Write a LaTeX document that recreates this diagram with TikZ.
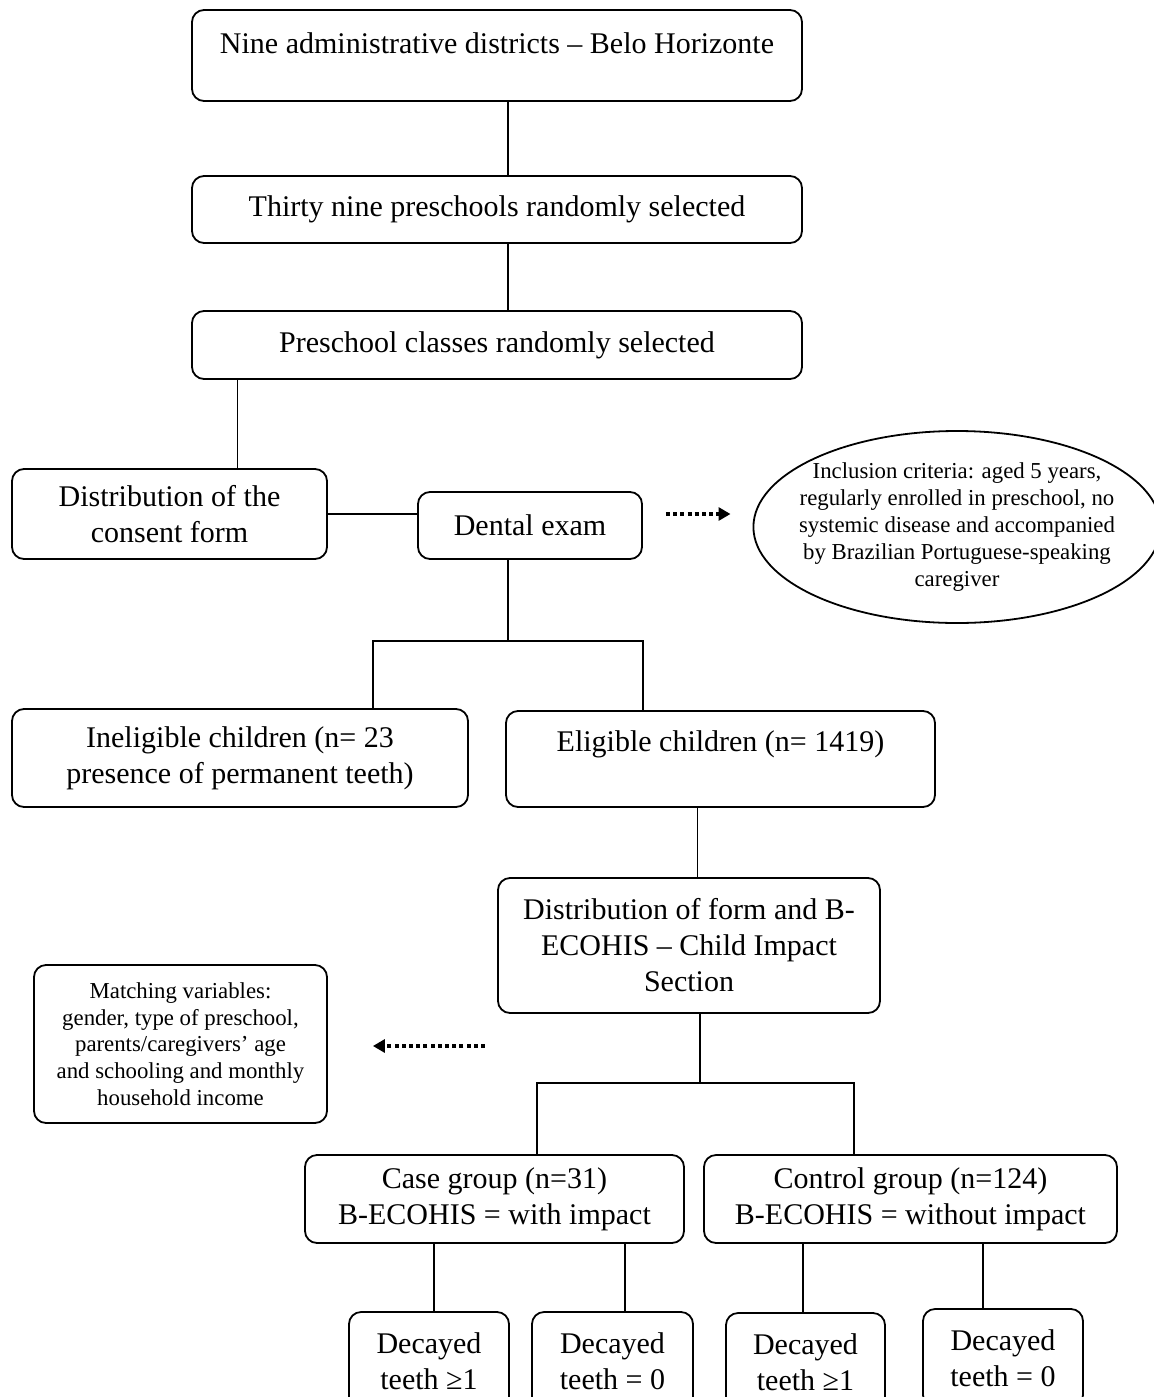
\documentclass[tikz,border=0pt]{standalone}
\usepackage{fontspec}
\setmainfont{Liberation Serif}
\usetikzlibrary{arrows.meta,calc,shapes.geometric}
\tikzset{
  link/.style={line width=0.9pt},
  flow-box/.style={
    draw=black,
    line width=0.9pt,
    rounded corners=6pt,
    align=center,
    inner sep=0pt,
    font=\fontsize{15}{18}\selectfont
  },
  note-box/.style={flow-box, font=\fontsize{11.4}{13.4}\selectfont},
  note-oval/.style={ellipse, draw=black, line width=0.9pt, align=center, inner ysep=0pt, inner xsep=-7pt,
    font=\fontsize{11.4}{13.5}\selectfont},
  dotted-arrow/.style={line width=1.8pt, dash pattern=on 2pt off 1.6pt,
    -{Triangle[length=6pt,width=6.5pt]}}
}

\begin{document}
\begin{tikzpicture}[x=0.5pt, y=-0.5pt]
  \useasboundingbox (0,0) rectangle (1154,1397);
  % Sampling steps
  \node[flow-box, minimum width=305pt, minimum height=45.5pt, text height=10.5pt, text depth=12pt] (nine) at (497,55.5) {Nine administrative districts – Belo Horizonte};
  \node[flow-box, minimum width=305pt, minimum height=33.5pt] (thirty) at (497,209.5) {Thirty nine preschools randomly selected};
  \node[flow-box, minimum width=305pt, minimum height=34pt] (classes) at (497,345) {Preschool classes randomly selected};
  \node[flow-box, minimum width=157.5pt, minimum height=45pt] (consent) at (169.5,514) {Distribution of the\\consent form};
  \node[flow-box, minimum width=112pt, minimum height=33.5pt] (exam) at (530,525.5) {Dental exam};
  \node[note-oval, minimum width=202pt, minimum height=96pt] (crit) at (957,527) {Inclusion criteria: aged 5 years,\\regularly enrolled in preschool, no\\systemic disease and accompanied\\by Brazilian Portuguese-speaking\\caregiver};
  % Eligibility
  \node[flow-box, minimum width=228pt, minimum height=49pt] (inelig) at (240,758) {Ineligible children (n= 23\\presence of permanent teeth)};
  \node[flow-box, minimum width=214.5pt, minimum height=48pt, text height=10.5pt, text depth=18.5pt] (elig) at (720.5,759) {Eligible children (n= 1419)};
  \node[flow-box, minimum width=191pt, minimum height=67.5pt] (formb) at (689,945.5) {Distribution of form and B-\\ECOHIS – Child Impact\\Section};
  \node[note-box, minimum width=146.5pt, minimum height=79pt] (match) at (180.5,1044) {Matching variables:\\gender, type of preschool,\\parents/caregivers’ age\\and schooling and monthly\\household income};
  % Groups
  \node[flow-box, minimum width=189.5pt, minimum height=44pt] (case) at (494.5,1199) {Case group (n=31)\\B-ECOHIS = with impact};
  \node[flow-box, minimum width=206.5pt, minimum height=44pt] (control) at (910.5,1199) {Control group (n=124)\\B-ECOHIS = without impact};
  \node[flow-box, minimum width=80pt, minimum height=49pt] (d1) at (429,1361) {Decayed\\teeth ≥1};
  \node[flow-box, minimum width=80.5pt, minimum height=49pt] (d2) at (612.5,1361) {Decayed\\teeth = 0};
  \node[flow-box, minimum width=79.5pt, minimum height=49pt] (d3) at (805.5,1362) {Decayed\\teeth ≥1};
  \node[flow-box, minimum width=80pt, minimum height=49pt] (d4) at (1003,1358) {Decayed\\teeth = 0};
  % Connectors
  \coordinate (trunk) at (508,0);
  \draw[link] (nine.south -| trunk) -- (thirty.north -| trunk);
  \draw[link] (thirty.south -| trunk) -- (classes.north -| trunk);
  \draw[link] ([xshift=34pt]consent.north) -- ([xshift=34pt]consent.north |- classes.south);
  \draw[link] (consent.east) -- (consent.east -| exam.west);
  \draw[dotted-arrow] ($(exam.east |- consent.east)+(23,0)$) -- ($(crit.west |- consent.east)+(-22,0)$);
  \coordinate (split1) at (508,641);
  \draw[link] (exam.south -| split1) -- (split1);
  \draw[link] ([xshift=66.5pt]inelig.north) |- ([xshift=-38.75pt]elig.north |- split1) -- ([xshift=-38.75pt]elig.north);
  \draw[link] ([xshift=-11.5pt]elig.south) -- ([xshift=-11.5pt]elig.south |- formb.north);
  \coordinate (split2) at (700,1083);
  \draw[link] (formb.south -| split2) -- (split2);
  \draw[link] ([xshift=21.25pt]case.north) |- ([xshift=-28.25pt]control.north |- split2) -- ([xshift=-28.25pt]control.north);
  \draw[dotted-arrow] ($(match.east)+(157,2)$) -- ($(match.east)+(45,2)$);
  \foreach \kid/\dx/\group in {d1/2.5/case, d2/6.25/case, d3/-1.25/control, d4/-10/control} {
    \draw[link] ([xshift=\dx pt]\kid.north) -- ([xshift=\dx pt]\kid.north |- \group.south);
  }
\end{tikzpicture}
\end{document}
